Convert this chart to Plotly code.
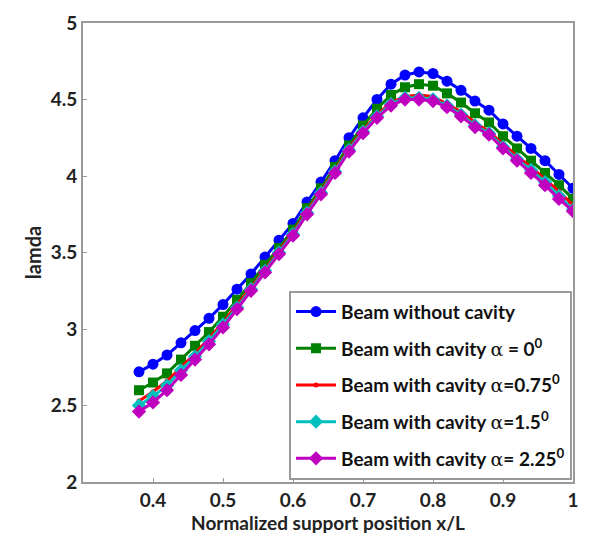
import plotly.graph_objects as go

x = [0.38, 0.40, 0.42, 0.44, 0.46, 0.48, 0.50, 0.52, 0.54, 0.56, 0.58, 0.60,
     0.62, 0.64, 0.66, 0.68, 0.70, 0.72, 0.74, 0.76, 0.78, 0.80, 0.82, 0.84,
     0.86, 0.88, 0.90, 0.92, 0.94, 0.96, 0.98, 1.00]

no_cavity = [2.72, 2.77, 2.83, 2.91, 2.99, 3.07, 3.16, 3.26, 3.36, 3.47, 3.58, 3.69,
             3.83, 3.96, 4.10, 4.25, 4.38, 4.50, 4.60, 4.66, 4.68, 4.67, 4.62, 4.56,
             4.49, 4.43, 4.34, 4.26, 4.18, 4.10, 4.01, 3.92]
alpha_0 = [2.60, 2.65, 2.71, 2.80, 2.89, 2.98, 3.08, 3.19, 3.30, 3.42, 3.53, 3.65,
           3.79, 3.92, 4.06, 4.20, 4.33, 4.44, 4.53, 4.58, 4.60, 4.59, 4.54, 4.48,
           4.41, 4.35, 4.26, 4.18, 4.10, 4.02, 3.94, 3.85]
alpha_075 = [2.53, 2.59, 2.66, 2.75, 2.84, 2.94, 3.04, 3.16, 3.27, 3.39, 3.51, 3.63,
             3.77, 3.90, 4.04, 4.18, 4.30, 4.40, 4.48, 4.52, 4.53, 4.52, 4.47, 4.42,
             4.35, 4.29, 4.21, 4.13, 4.06, 3.98, 3.90, 3.81]
alpha_15 = [2.50, 2.56, 2.63, 2.73, 2.82, 2.92, 3.03, 3.14, 3.26, 3.38, 3.50, 3.62,
            3.76, 3.89, 4.03, 4.17, 4.29, 4.39, 4.47, 4.51, 4.51, 4.50, 4.46, 4.40,
            4.33, 4.28, 4.19, 4.11, 4.04, 3.96, 3.87, 3.78]
alpha_225 = [2.46, 2.52, 2.60, 2.70, 2.80, 2.90, 3.01, 3.13, 3.25, 3.37, 3.49, 3.61,
             3.75, 3.88, 4.02, 4.16, 4.28, 4.38, 4.46, 4.50, 4.50, 4.49, 4.45, 4.39,
             4.32, 4.27, 4.18, 4.10, 4.02, 3.94, 3.85, 3.77]

a = "<span style='font-family:DejaVu Serif;font-weight:normal'>α</span>"
names = ["Beam without cavity",
         f"Beam with cavity {a} = 0<sup>0</sup>",
         f"Beam with cavity {a}=0.75<sup>0</sup>",
         f"Beam with cavity {a}=1.5<sup>0</sup>",
         f"Beam with cavity {a}= 2.25<sup>0</sup>"]
series = [no_cavity, alpha_0, alpha_075, alpha_15, alpha_225]
colors = ["#0000ff", "#008000", "#ff0000", "#00bfbf", "#bf00bf"]
symbols = ["circle", "square", "circle", "diamond", "diamond"]
sizes = [11, 10, 5, 11, 11]

fig = go.Figure()
for i, (nm, ys, c, s, sz) in enumerate(zip(names, series, colors, symbols, sizes)):
    fig.add_trace(go.Scatter(
        x=x, y=ys, name=nm, mode="lines+markers",
        line=dict(color=c, width=3),
        marker=dict(color=c, symbol=s, size=sz, line=dict(width=0)),
        legendgroup=f"g{i}",
    ))

axis_common = dict(
    showline=True, linecolor="#9a9a9a", linewidth=2, mirror=True,
    ticks="inside", ticklen=4, tickcolor="#9a9a9a",
    showgrid=False, zeroline=False,
    tickfont=dict(family="Lato", size=19, color="#222222", weight="bold"),
)

fig.update_layout(
    width=590, height=540,
    margin=dict(l=83, r=11, t=14, b=58),
    paper_bgcolor="white", plot_bgcolor="white",
    font=dict(family="Lato", color="#222222"),
    xaxis=dict(range=[0.3, 1.0], tickvals=[0.4, 0.5, 0.6, 0.7, 0.8, 0.9, 1],
               ticktext=["0.4", "0.5", "0.6", "0.7", "0.8", "0.9", "1"],
               title=dict(text="Normalized support position x/L", standoff=0,
                          font=dict(family="Lato", size=19, weight="bold", color="#222222")),
               **axis_common),
    yaxis=dict(range=[2, 5], tickvals=[2, 2.5, 3, 3.5, 4, 4.5, 5],
               ticktext=["2", "2.5", "3", "3.5", "4", "4.5", "5"],
               title=dict(text="lamda", standoff=4,
                          font=dict(family="Lato", size=20, weight="bold", color="#222222")),
               **axis_common),
    legend=dict(
        x=0.998, y=0.005, xanchor="right", yanchor="bottom",
        bgcolor="white", bordercolor="#9a9a9a", borderwidth=2,
        font=dict(family="Lato", size=19, weight="bold", color="#111111"),
        traceorder="grouped", tracegroupgap=9,
        itemwidth=40,
    ),
    showlegend=True,
)

fig.write_html("out.html")
